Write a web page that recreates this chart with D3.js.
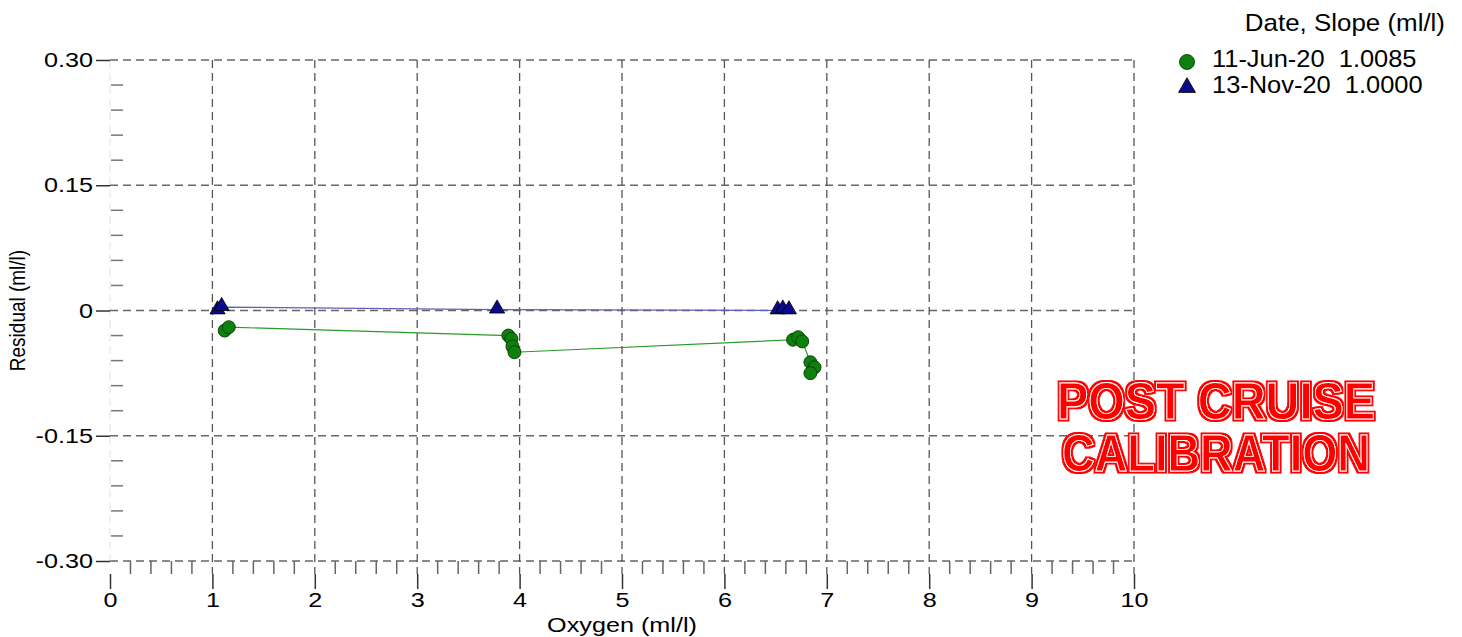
<!DOCTYPE html>
<html>
<head>
<meta charset="utf-8">
<script src="https://cdn.jsdelivr.net/npm/d3@7"></script>
<style>
  body { margin: 0; background: #fff; }
  svg { display: block; font-family: "Liberation Sans", Arial, Helvetica, sans-serif; }
</style>
</head>
<body>
<div id="chart"></div>
<script>
// data
const junOxygen = [1.12, 1.16, 3.89, 3.92, 3.93, 3.95, 6.67, 6.72, 6.76, 6.84, 6.88, 6.84];
const junResidual = [-0.024, -0.020, -0.030, -0.034, -0.043, -0.050, -0.035, -0.032, -0.037, -0.062, -0.068, -0.075];
const novOxygen = [1.05, 1.09, 3.78, 6.52, 6.57, 6.63];
const novResidual = [0.000, 0.004, 0.001, 0.000, 0.001, 0.000];

const legendTitle = 'Date, Slope (ml/l)';
const seriesNames = ['11-Jun-20  1.0085', '13-Nov-20  1.0000'];
const xTicks = [0, 1, 2, 3, 4, 5, 6, 7, 8, 9, 10];
const yTicks = [0.30, 0.15, 0, -0.15, -0.30];
const yTickLabels = ['0.30', '0.15', '0', '-0.15', '-0.30'];
const stampLines = ['POST CRUISE', 'CALIBRATION'];

const width = 1462, height = 637;
const margin = {left: 110, right: 328, top: 60, bottom: 76};
const sx = 1.2; // the original text is drawn a bit wide

const svg = d3.select('#chart').append('svg')
  .attr('width', width).attr('height', height)
  .attr('viewBox', [0, 0, width, height]);

const x = d3.scaleLinear().domain([0, 10]).range([margin.left, width - margin.right]);
const y = d3.scaleLinear().domain([-0.30, 0.30]).range([height - margin.bottom, margin.top]);

// text helper, stretched horizontally
function wideText(parent, tx, ty, str, size, anchor, k) {
  return parent.append('text')
    .attr('transform', `translate(${tx},${ty}) scale(${k},1)`)
    .attr('text-anchor', anchor)
    .attr('font-size', size)
    .style('white-space', 'pre')
    .text(str);
}

///////////////////////grid and ticks///////////////////////////
const gridG = svg.append('g');
// faint left axis line
gridG.append('line')
  .attr('x1', x(0)).attr('x2', x(0)).attr('y1', y(0.30)).attr('y2', y(-0.30))
  .attr('stroke', '#e2e2e2').attr('stroke-dasharray', '8,5');

gridG.selectAll('.ygrid').data(yTicks).join('line')
  .attr('class', 'ygrid')
  .attr('x1', x(0)).attr('x2', x(10))
  .attr('y1', d => y(d)).attr('y2', d => y(d))
  .attr('stroke', '#666').attr('stroke-width', 1.3).attr('stroke-dasharray', '8,5');

gridG.selectAll('.xgrid').data(xTicks.filter(d => d > 0)).join('line')
  .attr('class', 'xgrid')
  .attr('x1', d => x(d)).attr('x2', d => x(d))
  .attr('y1', y(0.30)).attr('y2', y(-0.30) + 13)
  .attr('stroke', '#555').attr('stroke-width', 1.3).attr('stroke-dasharray', '8,5');

// minor ticks
const yMinor = d3.range(-0.30, 0.30001, 0.03).filter(v => !yTicks.some(t => Math.abs(t - v) < 1e-6));
gridG.selectAll('.yminor').data(yMinor).join('line')
  .attr('x1', x(0) + 1).attr('x2', x(0) + 13)
  .attr('y1', d => y(d)).attr('y2', d => y(d))
  .attr('stroke', '#777').attr('stroke-width', 1.5);

const xMinor = d3.range(0, 10.0001, 0.2).filter(v => Math.abs(v - Math.round(v)) > 1e-6);
gridG.selectAll('.xminor').data(xMinor).join('line')
  .attr('x1', d => x(d)).attr('x2', d => x(d))
  .attr('y1', y(-0.30)).attr('y2', y(-0.30) + 13)
  .attr('stroke', '#666').attr('stroke-width', 1.5);

///////////////////////axes///////////////////////////
const yAxisG = svg.append('g')
  .attr('transform', `translate(${x(0)},0)`)
  .call(d3.axisLeft(y).tickValues(yTicks).tickFormat((d, i) => yTickLabels[i]).tickSize(14).tickPadding(3));
yAxisG.select('.domain').remove();
yAxisG.selectAll('.tick line').attr('stroke', '#333').attr('stroke-width', 1.5);
yAxisG.selectAll('.tick text')
  .attr('font-size', 21).attr('fill', '#000').attr('font-family', null)
  .attr('x', -17 / sx).attr('transform', `scale(${sx},1)`);

const xAxisG = svg.append('g')
  .attr('transform', `translate(0,${y(-0.30) + 13})`)
  .call(d3.axisBottom(x).tickValues(xTicks).tickFormat(d3.format('d')).tickSize(15).tickPadding(3));
xAxisG.select('.domain').remove();
xAxisG.selectAll('.tick line').attr('stroke', '#333').attr('stroke-width', 1.5);
xAxisG.selectAll('.tick text')
  .attr('font-size', 21).attr('fill', '#000').attr('font-family', null)
  .attr('transform', `scale(${sx},1)`);

wideText(svg, (x(0) + x(10)) / 2, 632, 'Oxygen (ml/l)', 21, 'middle', sx);

svg.append('text')
  .attr('transform', `translate(25,${y(0)}) scale(${sx},1) rotate(-90)`)
  .attr('text-anchor', 'middle').attr('font-size', 19)
  .text('Residual (ml/l)');

///////////////////////series///////////////////////////
const junData = junOxygen.map((d, i) => ({x: d, y: junResidual[i]}));
const novData = novOxygen.map((d, i) => ({x: d, y: novResidual[i]}));
const line = d3.line().x(d => x(d.x)).y(d => y(d.y));

svg.append('path').datum(junData)
  .attr('d', line).attr('fill', 'none')
  .attr('stroke', '#2a9a2a').attr('stroke-width', 1.2);
svg.append('path').datum(novData)
  .attr('d', line).attr('fill', 'none')
  .attr('stroke', '#6060b0').attr('stroke-width', 1.2);

const tri = d3.symbol().type(d3.symbolTriangle).size(100);

svg.selectAll('.nov').data(novData).join('path')
  .attr('class', 'nov')
  .attr('d', tri)
  .attr('transform', d => `translate(${x(d.x)},${y(d.y) - 1})`)
  .attr('fill', '#0a0a8a').attr('stroke', '#000').attr('stroke-width', 0.8);

svg.selectAll('.jun').data(junData).join('circle')
  .attr('class', 'jun')
  .attr('cx', d => x(d.x)).attr('cy', d => y(d.y)).attr('r', 6.5)
  .attr('fill', '#0c820c').attr('stroke', '#0a3a0a').attr('stroke-width', 0.9);

///////////////////////legend///////////////////////////
const legendG = svg.append('g');
wideText(legendG, 1445, 31, legendTitle, 24, 'end', 1.08);

seriesNames.forEach((name, i) => {
  const ly = 62 + i * 25.5;
  wideText(legendG, 1212, ly + 5, name, 24, 'start', 1.06);
  if (i === 0) {
    legendG.append('circle')
      .attr('cx', 1187).attr('cy', ly).attr('r', 7.5)
      .attr('fill', '#0c820c').attr('stroke', '#0a3a0a').attr('stroke-width', 0.9);
  } else {
    legendG.append('path')
      .attr('d', d3.symbol().type(d3.symbolTriangle).size(125))
      .attr('transform', `translate(1187,${ly})`)
      .attr('fill', '#0a0a8a').attr('stroke', '#000').attr('stroke-width', 0.8);
  }
});

///////////////////////stamp///////////////////////////
// red outer rim made with a dilate filter, white inner outline from the stroke
const defs = svg.append('defs');
const rim = defs.append('filter').attr('id', 'redRim')
  .attr('x', '-5%').attr('y', '-10%').attr('width', '110%').attr('height', '120%');
rim.append('feMorphology').attr('in', 'SourceAlpha').attr('operator', 'dilate').attr('radius', 2).attr('result', 'fat');
rim.append('feFlood').attr('flood-color', '#ff0000').attr('result', 'red');
rim.append('feComposite').attr('in', 'red').attr('in2', 'fat').attr('operator', 'in').attr('result', 'rimShape');
const merge = rim.append('feMerge');
merge.append('feMergeNode').attr('in', 'rimShape');
merge.append('feMergeNode').attr('in', 'SourceGraphic');

const stamp = svg.append('text')
  .attr('text-anchor', 'middle')
  .attr('font-size', 52).attr('font-weight', 'bold')
  .attr('fill', '#ff0000').attr('stroke', '#ffffff').attr('stroke-width', 0.9)
  .attr('filter', 'url(#redRim)');
stamp.selectAll('tspan').data(stampLines).join('tspan')
  .attr('x', 1216).attr('y', (d, i) => 419 + i * 52)
  .attr('textLength', (d, i) => i === 0 ? 318 : 308).attr('lengthAdjust', 'spacingAndGlyphs')
  .text(d => d);
</script>
</body>
</html>
